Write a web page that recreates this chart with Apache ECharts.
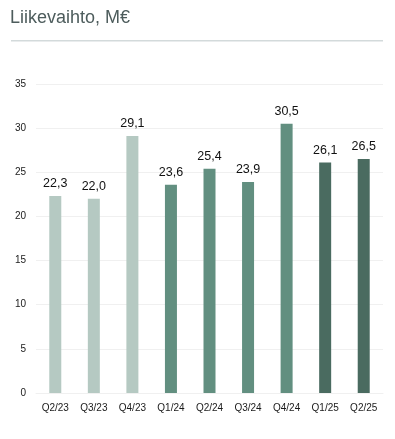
<!DOCTYPE html>
<html><head><meta charset="utf-8">
<script src="https://cdn.jsdelivr.net/npm/echarts@6/dist/echarts.min.js"></script>
<style>html,body{margin:0;padding:0;background:#fff}#c{width:395px;height:439px}</style>
</head><body><div id="c"></div>
<script>
const categories = ['Q2/23','Q3/23','Q4/23','Q1/24','Q2/24','Q3/24','Q4/24','Q1/25','Q2/25'];
const values = [22.3, 22.0, 29.1, 23.6, 25.4, 23.9, 30.5, 26.1, 26.5];
const barColors = ['#b5c9c2','#b5c9c2','#b5c9c2','#628f80','#628f80','#628f80','#628f80','#4a6b60','#4a6b60'];
const chart = echarts.init(document.getElementById('c'), null, {renderer:'canvas'});
chart.setOption({
  animation:false,
  title:{text:'Liikevaihto, M€', left:10, top:9, padding:0, textStyle:{fontFamily:'Liberation Sans, Arial, sans-serif', fontSize:18, fontWeight:'normal', color:'#4d5c5c'}},
  graphic:[{type:'rect', shape:{x:11,y:40,width:372,height:1.5}, style:{fill:'#d3dadb'}}],
  grid:{left:36, right:12, top:84, bottom:46},
  xAxis:{type:'category', data:categories,
    axisLine:{show:true, lineStyle:{color:'#f0f0f0'}}, axisTick:{show:false},
    axisLabel:{color:'#1a1a1a', fontSize:10, fontFamily:'Liberation Sans, Arial, sans-serif', margin:10}},
  yAxis:{type:'value', min:0, max:35, interval:5,
    axisLine:{show:false}, axisTick:{show:false},
    splitLine:{lineStyle:{color:'#f0f0f0'}},
    axisLabel:{color:'#1a1a1a', fontSize:10, fontFamily:'Liberation Sans, Arial, sans-serif', margin:10}},
  series:[{type:'bar', barWidth:12,
    data: values.map((v,i)=>({value:v, itemStyle:{color:barColors[i]}})),
    label:{show:true, position:'top', distance:6, color:'#111', fontSize:12.5, fontFamily:'Liberation Sans, Arial, sans-serif',
      formatter:p=>p.value.toFixed(1).replace('.',',')}}]
});
</script></body></html>
